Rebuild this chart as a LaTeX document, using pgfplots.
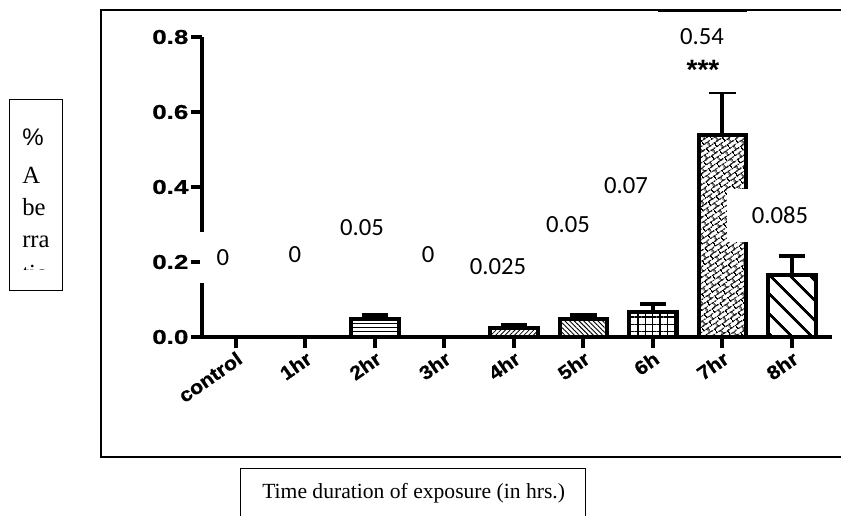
\documentclass[border=0pt]{standalone}
\usepackage{fontspec}
\setmainfont{Liberation Serif}
\newfontfamily\prism[FakeStretch=1.3, FakeBold=0.8]{Liberation Sans}
\newfontfamily\prismx[FakeStretch=1.1, FakeBold=0.8]{Liberation Sans}
\newfontfamily\calib{Carlito}
\newfontfamily\arial{Liberation Sans}
\usepackage{pgfplots}
\pgfplotsset{compat=1.18}
\usetikzlibrary{patterns,patterns.meta}

% brick-like fill used for the 7hr bar
\tikzdeclarepattern{
  name=bricks,
  type=uncolored,
  bounding box={(0pt,0pt) and (7pt,7pt)},
  tile size={(7pt,7pt)},
  tile transformation={rotate=35},
  code={
    \tikzset{line width=0.9pt}
    \draw (0pt,0.45pt) -- (7pt,0.45pt) (0pt,3.95pt) -- (7pt,3.95pt);
    \draw (0.45pt,0.45pt) -- (0.45pt,3.95pt) (3.95pt,3.95pt) -- (3.95pt,7pt) (3.95pt,0pt) -- (3.95pt,0.45pt);
  }
}

\pgfplotsset{
  prismbar/.style={draw=black, line width=3pt, bar shift=0pt},
  errbar/.style={prismbar,
    error bars/y dir=plus, error bars/y explicit,
    error bars/error bar style={line width=3pt, solid, black},
    error bars/error mark options={rotate=90, line width=3pt, mark size=10pt, black, solid}},
}
\tikzset{lbl/.style={font=\calib\fontsize{18.5}{22}\selectfont, fill=white, inner sep=2pt}}

\begin{document}
\begin{tikzpicture}
\begin{scope}[x=0.75pt,y=-0.75pt]
  % outer frame of the figure
  \draw[line width=2pt] (900,10) -- (101,10) -- (101,457) -- (900,457);
\end{scope}

\begin{axis}[
  at={(151.5pt,-252.75pt)}, anchor=south west,
  scale only axis, width=472.5pt, height=225pt,
  xmin=-0.489, xmax=8.576, ymin=0, ymax=0.8,
  axis lines=left, axis line style={-, line width=3pt},
  ybar, bar width=0.68,
  ytick={0,0.2,0.4,0.6,0.8},
  yticklabel style={font=\prism\bfseries\fontsize{15}{16}\selectfont, inner sep=1.5pt,
    /pgf/number format/.cd, fixed, fixed zerofill, precision=1, assume math mode=true},
  xtick={0,...,8},
  xticklabels={control,1hr,2hr,3hr,4hr,5hr,6h,7hr,8hr},
  xticklabel style={font=\prismx\bfseries\fontsize{14.5}{15}\selectfont,
    rotate=35, anchor=north east, inner sep=1pt},
  tick align=outside, major tick length=8.5pt,
  tick style={line width=3pt, black},
  clip=false,
]
\addplot[prismbar, fill=white] coordinates {(0,0)};
\addplot[prismbar, fill=white] coordinates {(1,0)};
\addplot[errbar, pattern={Lines[angle=0, distance=3pt, line width=0.75pt]}]
  coordinates {(2,0.048) +- (0,0.010)};
\addplot[prismbar, fill=white] coordinates {(3,0)};
\addplot[errbar, pattern={Lines[angle=45, distance=2.5pt, line width=0.6pt]}]
  coordinates {(4,0.023) +- (0,0.010)};
\addplot[errbar, pattern={Lines[angle=-45, distance=2.5pt, line width=0.7pt]}]
  coordinates {(5,0.049) +- (0,0.010)};
\addplot[errbar, pattern={Hatch[angle=0, distance=5.5pt, line width=0.8pt]}]
  coordinates {(6,0.067) +- (0,0.021)};
\addplot[errbar, pattern=bricks]
  coordinates {(7,0.539) +- (0,0.114)};
\addplot[errbar, pattern={Lines[angle=-45, distance=10.5pt, line width=2.2pt]}]
  coordinates {(8,0.165) +- (0,0.051)};

% where the value boxes sit
\coordinate (v0) at (axis cs:-0.187,0.213);
\coordinate (v1) at (axis cs:0.849,0.221);
\coordinate (v2) at (axis cs:1.813,0.291);
\coordinate (v3) at (axis cs:2.763,0.221);
\coordinate (v4) at (axis cs:3.770,0.189);
\coordinate (v5) at (axis cs:4.777,0.299);
\coordinate (v6) at (axis cs:5.612,0.405);
\coordinate (v7) at (axis cs:6.705,0.800);
\coordinate (v7b) at (axis cs:6.712,0.773);
\coordinate (v7s) at (axis cs:6.719,0.712);
\coordinate (v8) at (axis cs:7.827,0.325);
\end{axis}

\node[lbl, minimum width=34.5pt, minimum height=38.25pt] at (v0) {0};
\node[lbl] at (v1) {0};
\node[lbl] at (v2) {0.05};
\node[lbl] at (v3) {0};
\node[lbl] at (v4) {0.025};
\node[lbl] at (v5) {0.05};
\node[lbl] at (v6) {0.07};
\node[fill=white, minimum width=66.75pt, minimum height=57.75pt, yshift=-5pt] at (v7b) {};
\node[lbl, fill=none] at (v7) {0.54};
\node[lbl, fill=none, font=\arial\bfseries\fontsize{21}{22}\selectfont] at (v7s) {***};
\node[lbl, minimum width=79.5pt, minimum height=39.75pt] at (v8) {0.085};

\begin{scope}[x=0.75pt,y=-0.75pt]
  \draw[line width=0.6pt] (658,11.5) -- (747,11.5);
  % y label box, text cut by the box
  \draw[line width=0.75pt] (9,99) rectangle (62,290);
  \begin{scope}
    \clip (9,99) rectangle (62,269);
    \node[anchor=base west, inner sep=0pt, font=\arial\fontsize{18}{20}\selectfont] at (22,145) {\%};
    \node[anchor=base west, inner sep=0pt, font=\fontsize{18.5}{20}\selectfont] at (22,183) {A};
    \node[anchor=base west, inner sep=0pt, font=\fontsize{18.5}{20}\selectfont] at (22,215) {be};
    \node[anchor=base west, inner sep=0pt, font=\fontsize{18.5}{20}\selectfont] at (22,247) {rra};
    \node[anchor=base west, inner sep=0pt, font=\fontsize{18.5}{20}\selectfont] at (22,281) {tio};
  \end{scope}
  % x label box
  \draw[line width=0.75pt] (240,530) -- (240,468) -- (585,468) -- (585,530);
  \node[anchor=base west, inner sep=0pt, font=\fontsize{16.2}{18}\selectfont] at (262,498) {Time duration of exposure (in hrs.)};
  \pgfresetboundingbox
  \path[use as bounding box] (0,0) rectangle (841,515);
\end{scope}
\end{tikzpicture}
\end{document}
